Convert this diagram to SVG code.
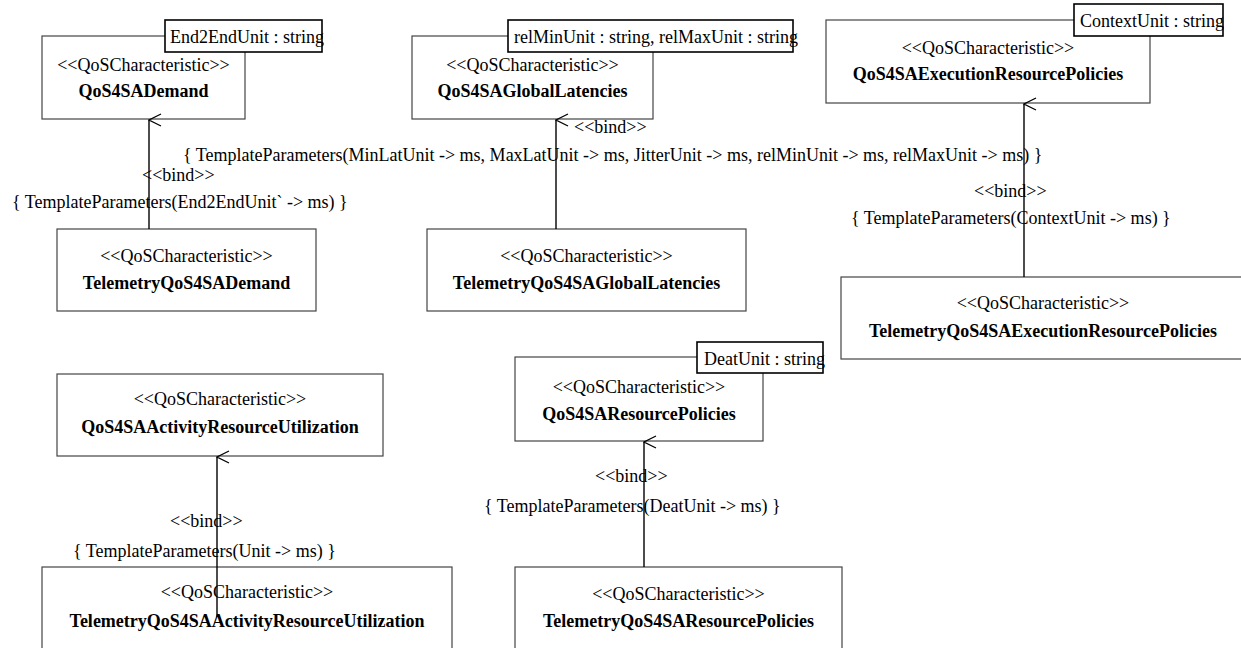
<svg xmlns="http://www.w3.org/2000/svg" width="1241" height="648" viewBox="0 0 1241 648" font-family="'Liberation Serif', 'Times New Roman', 'DejaVu Serif', serif">
<defs>
<style>
text{font-family:'Liberation Serif','Times New Roman','DejaVu Serif',serif;font-size:18px;fill:#000}
.st{text-anchor:middle}
.nm{text-anchor:middle;font-weight:bold}
.cls{fill:none;stroke:#444;stroke-width:1.2}
.tpl{fill:#fff;stroke:#000;stroke-width:1.6}
.conn{fill:none;stroke:#000;stroke-width:1.4}
</style>
<marker id="open" viewBox="0 0 14 14" refX="7" refY="1" markerWidth="14" markerHeight="14" markerUnits="userSpaceOnUse" orient="auto-start-reverse">
<path d="M1,13 L7,1 L13,13" fill="none" stroke="#000" stroke-width="1.3"/>
</marker>
</defs>
<rect width="1241" height="648" fill="#fff"/>

<g id="QoS4SADemand">
<rect class="cls" x="42" y="36" width="203" height="83"/>
<rect class="tpl" x="165" y="20" width="157" height="32"/>
<text x="170" y="43">End2EndUnit : string</text>
<text class="st" x="143.5" y="71">&lt;&lt;QoSCharacteristic&gt;&gt;</text>
<text class="nm" x="143.5" y="97">QoS4SADemand</text>
</g>

<g id="TelemetryQoS4SADemand">
<rect class="cls" x="57" y="229" width="259" height="82"/>
<text class="st" x="186.5" y="262">&lt;&lt;QoSCharacteristic&gt;&gt;</text>
<text class="nm" x="186.5" y="289">TelemetryQoS4SADemand</text>
</g>

<g id="QoS4SAGlobalLatencies">
<rect class="cls" x="412" y="36" width="241" height="83"/>
<rect class="tpl" x="508" y="20" width="285" height="32"/>
<text x="514" y="43">relMinUnit : string, relMaxUnit : string</text>
<text class="st" x="532.5" y="71">&lt;&lt;QoSCharacteristic&gt;&gt;</text>
<text class="nm" x="532.5" y="97">QoS4SAGlobalLatencies</text>
</g>

<g id="TelemetryQoS4SAGlobalLatencies">
<rect class="cls" x="427" y="229" width="319" height="82"/>
<text class="st" x="586.5" y="262">&lt;&lt;QoSCharacteristic&gt;&gt;</text>
<text class="nm" x="586.5" y="289">TelemetryQoS4SAGlobalLatencies</text>
</g>

<g id="QoS4SAExecutionResourcePolicies">
<rect class="cls" x="826" y="20" width="324" height="83"/>
<rect class="tpl" x="1074" y="4" width="149" height="32"/>
<text x="1080" y="27">ContextUnit : string</text>
<text class="st" x="988" y="54">&lt;&lt;QoSCharacteristic&gt;&gt;</text>
<text class="nm" x="988" y="80">QoS4SAExecutionResourcePolicies</text>
</g>

<g id="TelemetryQoS4SAExecutionResourcePolicies">
<rect class="cls" x="841" y="277" width="410" height="82"/>
<text class="st" x="1043" y="309">&lt;&lt;QoSCharacteristic&gt;&gt;</text>
<text class="nm" x="1043" y="337">TelemetryQoS4SAExecutionResourcePolicies</text>
</g>

<g id="QoS4SAActivityResourceUtilization">
<rect class="cls" x="57" y="374" width="326" height="82"/>
<text class="st" x="220" y="405">&lt;&lt;QoSCharacteristic&gt;&gt;</text>
<text class="nm" x="220" y="433">QoS4SAActivityResourceUtilization</text>
</g>

<g id="TelemetryQoS4SAActivityResourceUtilization">
<rect class="cls" x="42" y="567" width="410" height="100"/>
<text class="st" x="247" y="598">&lt;&lt;QoSCharacteristic&gt;&gt;</text>
<text class="nm" x="247" y="627">TelemetryQoS4SAActivityResourceUtilization</text>
</g>

<g id="QoS4SAResourcePolicies">
<rect class="cls" x="515" y="357" width="248" height="84"/>
<rect class="tpl" x="697" y="342" width="126" height="31"/>
<text x="704" y="365">DeatUnit : string</text>
<text class="st" x="639" y="393">&lt;&lt;QoSCharacteristic&gt;&gt;</text>
<text class="nm" x="639" y="420">QoS4SAResourcePolicies</text>
</g>

<g id="TelemetryQoS4SAResourcePolicies">
<rect class="cls" x="515" y="567" width="327" height="100"/>
<text class="st" x="678.5" y="600">&lt;&lt;QoSCharacteristic&gt;&gt;</text>
<text class="nm" x="678.5" y="627">TelemetryQoS4SAResourcePolicies</text>
</g>

<g id="connectors">
<line class="conn" x1="149" y1="229" x2="149" y2="120" marker-end="url(#open)"/>
<text x="142" y="181">&lt;&lt;bind&gt;&gt;</text>
<text x="12" y="208">{ TemplateParameters(End2EndUnit` -&gt; ms) }</text>

<line class="conn" x1="556" y1="229" x2="556" y2="120" marker-end="url(#open)"/>
<text x="574" y="133">&lt;&lt;bind&gt;&gt;</text>
<text x="183" y="161">{ TemplateParameters(MinLatUnit -&gt; ms, MaxLatUnit -&gt; ms, JitterUnit -&gt; ms, relMinUnit -&gt; ms, relMaxUnit -&gt; ms) }</text>

<line class="conn" x1="1024" y1="277" x2="1024" y2="104" marker-end="url(#open)"/>
<text x="974" y="197">&lt;&lt;bind&gt;&gt;</text>
<text x="851" y="224">{ TemplateParameters(ContextUnit -&gt; ms) }</text>

<line class="conn" x1="217" y1="617" x2="217" y2="457" marker-end="url(#open)"/>
<text x="170" y="527">&lt;&lt;bind&gt;&gt;</text>
<text x="73" y="557">{ TemplateParameters(Unit -&gt; ms) }</text>

<line class="conn" x1="644" y1="567" x2="644" y2="442" marker-end="url(#open)"/>
<text x="595" y="482">&lt;&lt;bind&gt;&gt;</text>
<text x="484" y="512">{ TemplateParameters(DeatUnit -&gt; ms) }</text>
</g>
</svg>
